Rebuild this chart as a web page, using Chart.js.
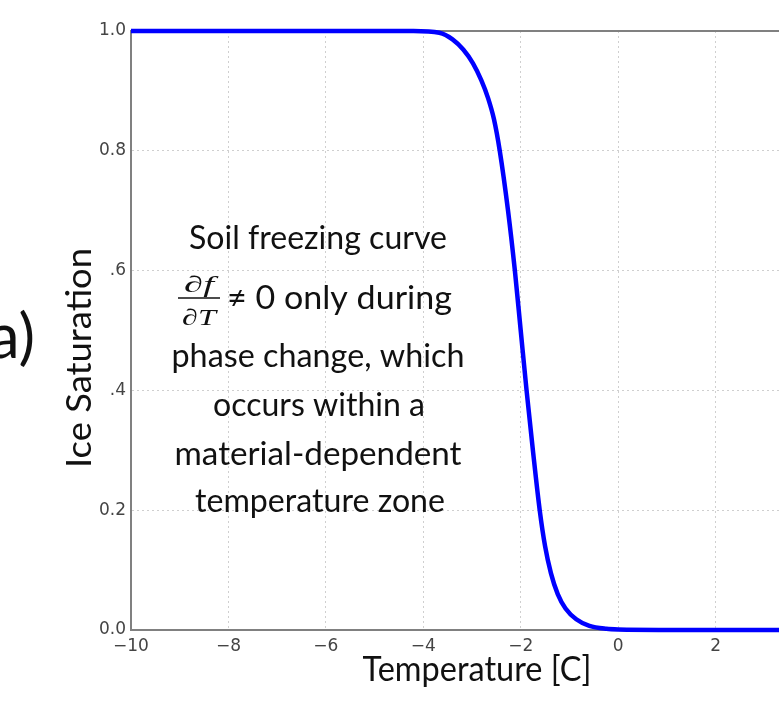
<!DOCTYPE html>
<html>
<head>
<meta charset="utf-8">
<script src="https://cdn.jsdelivr.net/npm/chart.js@4.4.1/dist/chart.umd.min.js"></script>
<style>
  html, body { margin: 0; padding: 0; background: #fff; overflow: hidden; }
  #wrap { width: 830px; height: 723px; }
</style>
</head>
<body>
<div id="wrap"><canvas id="c" width="830" height="723"></canvas></div>
<script>
// ---- data ----
const temperatures = [-10, -6, -4.2, -3.67, -3.40, -3.18, -2.98, -2.81, -2.67, -2.55, -2.43, -2.26, -2.12, -2.0, -1.88, -1.75, -1.61, -1.50, -1.38, -1.24, -1.08, -0.86, -0.59, -0.24, 0, 2, 4];
const iceSaturation = [1, 1, 1, 0.997, 0.986, 0.969, 0.946, 0.918, 0.888, 0.853, 0.80, 0.70, 0.60, 0.50, 0.40, 0.30, 0.20, 0.14, 0.095, 0.06, 0.036, 0.018, 0.007, 0.002, 0.001, 0, 0];
const xTickValues = [-10, -8, -6, -4, -2, 0, 2, 4];
const xTickLabels = ['\u221210', '\u22128', '\u22126', '\u22124', '\u22122', '0', '2', '4'];
const yTickValues = [0, 0.2, 0.4, 0.6, 0.8, 1.0];
const yTickLabels = ['0.0', '0.2', '.4', '.6', '0.8', '1.0'];
const xTitle = 'Temperature [C]';
const yTitle = 'Ice Saturation';
const panelLabel = 'a)';
const noteLines = ['Soil freezing curve', '\u2260 0 only during', 'phase change, which', 'occurs within a', 'material-dependent', 'temperature zone'];
const fracNum = '\u2202f';
const fracDen = '\u2202T';

const points = temperatures.map((t, i) => ({ x: t, y: iceSaturation[i] }));

function fitText(ctx, text, x, y, targetW, align) {
  const w = ctx.measureText(text).width;
  const s = targetW / w;
  ctx.save();
  ctx.translate(x, y);
  ctx.scale(s, 1);
  ctx.textAlign = align || 'center';
  ctx.fillText(text, 0, 0);
  ctx.restore();
}

const decor = {
  id: 'decor',
  beforeDatasetsDraw(chart) {
    const { ctx, chartArea } = chart;
    ctx.save();
    ctx.strokeStyle = '#808080';
    ctx.lineWidth = 2;
    ctx.beginPath();
    ctx.moveTo(chartArea.left - 1, chartArea.top);
    ctx.lineTo(chartArea.right, chartArea.top);
    ctx.lineTo(chartArea.right, chartArea.bottom);
    ctx.stroke();
    ctx.restore();
  },
  afterDraw(chart) {
    const { ctx } = chart;
    ctx.save();
    ctx.fillStyle = '#111';
    ctx.textBaseline = 'alphabetic';

    // annotation
    ctx.font = '32px Lato';
    fitText(ctx, noteLines[0], 318, 249, 258);
    fitText(ctx, noteLines[1], 227, 309, 225, 'left');
    fitText(ctx, noteLines[2], 318, 367, 293);
    fitText(ctx, noteLines[3], 319, 416, 212);
    fitText(ctx, noteLines[4], 318, 465, 287);
    fitText(ctx, noteLines[5], 320, 512, 250);

    // fraction
    ctx.font = 'italic 23px "Liberation Serif"';
    fitText(ctx, fracNum, 199, 292, 30);
    fitText(ctx, fracDen, 199, 325, 34);
    ctx.strokeStyle = '#111';
    ctx.lineWidth = 1.3;
    ctx.beginPath();
    ctx.moveTo(178, 298);
    ctx.lineTo(220, 298);
    ctx.stroke();

    // axis titles
    ctx.font = '34px Lato';
    fitText(ctx, xTitle, 477, 681, 229);
    ctx.save();
    ctx.translate(91, 358);
    ctx.rotate(-Math.PI / 2);
    fitText(ctx, yTitle, 0, 0, 220);
    ctx.restore();

    // panel label
    ctx.font = '62px Lato';
    ctx.textAlign = 'right';
    ctx.fillText(panelLabel, 35, 358);
    ctx.restore();
  }
};

new Chart(document.getElementById('c'), {
  type: 'line',
  data: {
    datasets: [{
      data: points,
      borderColor: '#0000ff',
      borderWidth: 4.5,
      pointRadius: 0,
      cubicInterpolationMode: 'monotone',
      fill: false,
      clip: false
    }]
  },
  options: {
    responsive: false,
    animation: false,
    events: [],
    layout: { padding: { left: 0, top: 31, right: 17, bottom: 0 } },
    plugins: { legend: { display: false }, tooltip: { enabled: false } },
    scales: {
      x: {
        type: 'linear',
        min: -10, max: 4,
        afterBuildTicks: (s) => { s.ticks = xTickValues.map(v => ({ value: v })); },
        afterFit: (s) => { s.height = 93; },
        ticks: {
          color: '#444',
          font: { family: 'DejaVu Sans', size: 17 },
          padding: 6,
          maxRotation: 0,
          autoSkip: false,
          callback: (v) => xTickLabels[xTickValues.indexOf(v)]
        },
        grid: { color: '#cfcfcf', lineWidth: 1, drawTicks: false },
        border: { color: '#808080', width: 2, dash: [2, 3] }
      },
      y: {
        type: 'linear',
        min: 0, max: 1,
        afterBuildTicks: (s) => { s.ticks = yTickValues.map(v => ({ value: v })); },
        afterFit: (s) => { s.width = 131; },
        ticks: {
          color: '#444',
          font: { family: 'DejaVu Sans', size: 17 },
          padding: 5,
          autoSkip: false,
          callback: (v) => yTickLabels[yTickValues.findIndex(t => Math.abs(t - v) < 1e-9)]
        },
        grid: { color: '#cfcfcf', lineWidth: 1, drawTicks: false },
        border: { color: '#808080', width: 2, dash: [2, 3] }
      }
    }
  },
  plugins: [decor]
});
</script>
</body>
</html>
